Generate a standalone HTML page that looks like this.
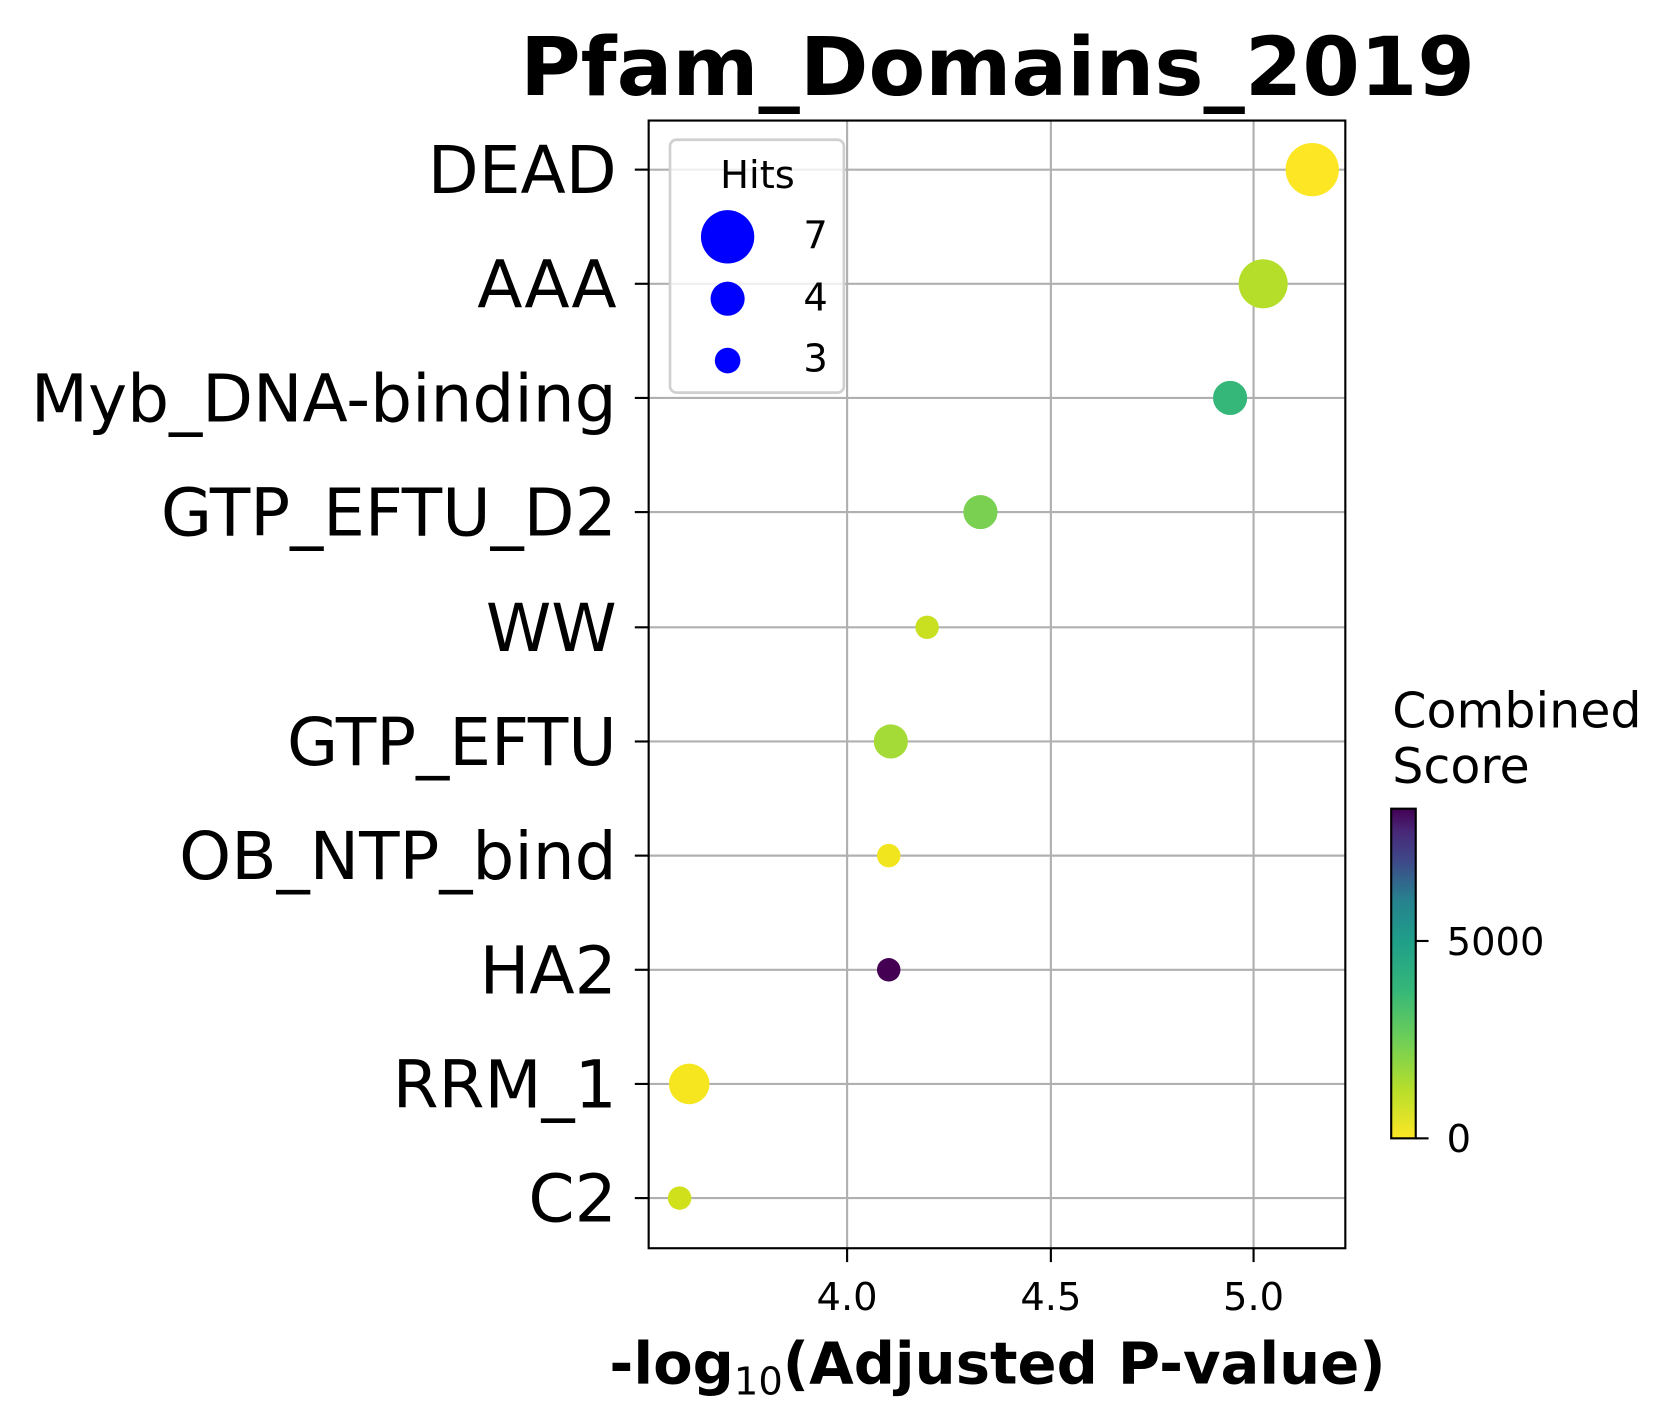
<!DOCTYPE html>
<html><head><style>html,body{margin:0;padding:0;background:#fff}svg{display:block}</style></head>
<body>
<svg width="1675" height="1428" viewBox="0 0 1570 1338.5" xmlns="http://www.w3.org/2000/svg" font-family="DejaVu Sans, Liberation Sans, sans-serif">
<defs>
<linearGradient id="vir" x1="0" y1="1" x2="0" y2="0">
<stop offset="0" stop-color="#fde725"/><stop offset="0.15" stop-color="#b5de2b"/><stop offset="0.3" stop-color="#6ece58"/><stop offset="0.45" stop-color="#35b779"/><stop offset="0.6" stop-color="#1f9e89"/><stop offset="0.72" stop-color="#26828e"/><stop offset="0.84" stop-color="#3e4989"/><stop offset="0.93" stop-color="#482878"/><stop offset="1" stop-color="#440154"/>
</linearGradient>
</defs>
<rect width="1570" height="1339" fill="#fff"/>
<text x="935" y="89" font-size="76" font-weight="bold" text-anchor="middle" textLength="895" lengthAdjust="spacingAndGlyphs">Pfam_Domains_2019</text>
<g stroke="#b0b0b0" stroke-width="2">
<line x1="794" y1="113" x2="794" y2="1170"/><line x1="985" y1="113" x2="985" y2="1170"/><line x1="1175" y1="113" x2="1175" y2="1170"/>
<line x1="608" y1="159" x2="1261" y2="159"/><line x1="608" y1="266" x2="1261" y2="266"/><line x1="608" y1="373" x2="1261" y2="373"/><line x1="608" y1="480" x2="1261" y2="480"/><line x1="608" y1="588" x2="1261" y2="588"/><line x1="608" y1="695" x2="1261" y2="695"/><line x1="608" y1="802" x2="1261" y2="802"/><line x1="608" y1="909" x2="1261" y2="909"/><line x1="608" y1="1016" x2="1261" y2="1016"/><line x1="608" y1="1123" x2="1261" y2="1123"/>
</g>
<circle cx="1230" cy="159" r="25" fill="#fde725"/>
<circle cx="1184" cy="266" r="23" fill="#b5de2b"/>
<circle cx="1153" cy="373" r="16" fill="#35b779"/>
<circle cx="919" cy="480" r="16" fill="#7ad151"/>
<circle cx="869" cy="588" r="11" fill="#c8e020"/>
<circle cx="835" cy="695" r="16" fill="#a5db36"/>
<circle cx="833" cy="802" r="11" fill="#f1e51d"/>
<circle cx="833" cy="909" r="11" fill="#440154"/>
<circle cx="646" cy="1016" r="19" fill="#f6e620"/>
<circle cx="637" cy="1123" r="11" fill="#d0e11c"/>
<rect x="628" y="131" width="163" height="237" rx="6" fill="#fff" fill-opacity="0.8" stroke="#d0d0d0" stroke-width="2.5"/>
<text x="710" y="176" font-size="36" text-anchor="middle">Hits</text>
<circle cx="682" cy="222" r="25" fill="#0000ff"/><circle cx="682" cy="280" r="16" fill="#0000ff"/><circle cx="682" cy="338" r="12" fill="#0000ff"/>
<g font-size="36"><text x="753" y="233">7</text><text x="753" y="291">4</text><text x="753" y="348">3</text></g>
<rect x="608" y="113" width="653" height="1057" fill="none" stroke="#000" stroke-width="2"/>
<g stroke="#000" stroke-width="2">
<line x1="595" y1="159" x2="608" y2="159"/><line x1="595" y1="266" x2="608" y2="266"/><line x1="595" y1="373" x2="608" y2="373"/><line x1="595" y1="480" x2="608" y2="480"/><line x1="595" y1="588" x2="608" y2="588"/><line x1="595" y1="695" x2="608" y2="695"/><line x1="595" y1="802" x2="608" y2="802"/><line x1="595" y1="909" x2="608" y2="909"/><line x1="595" y1="1016" x2="608" y2="1016"/><line x1="595" y1="1123" x2="608" y2="1123"/>
<line x1="794" y1="1170" x2="794" y2="1183"/><line x1="985" y1="1170" x2="985" y2="1183"/><line x1="1175" y1="1170" x2="1175" y2="1183"/>
</g>
<g font-size="62" text-anchor="end">
<text x="578" y="181">DEAD</text><text x="578" y="288">AAA</text><text x="578" y="395">Myb_DNA-binding</text><text x="578" y="502">GTP_EFTU_D2</text><text x="578" y="610">WW</text><text x="578" y="717">GTP_EFTU</text><text x="578" y="824">OB_NTP_bind</text><text x="578" y="931">HA2</text><text x="578" y="1038">RRM_1</text><text x="578" y="1145">C2</text>
</g>
<g font-size="36" text-anchor="middle"><text x="794" y="1228">4.0</text><text x="985" y="1228">4.5</text><text x="1175" y="1228">5.0</text></g>
<text x="935" y="1297" font-size="54" font-weight="bold" text-anchor="middle">-log<tspan font-size="36" font-weight="normal" dy="10">10</tspan><tspan dy="-10">(Adjusted P-value)</tspan></text>
<rect x="1304" y="758" width="23" height="309" fill="url(#vir)" stroke="#000" stroke-width="2"/>
<g stroke="#000" stroke-width="2"><line x1="1327" y1="882" x2="1339" y2="882"/><line x1="1327" y1="1067" x2="1339" y2="1067"/></g>
<g font-size="36"><text x="1356" y="895">5000</text><text x="1356" y="1080">0</text></g>
<g font-size="46"><text x="1305" y="682">Combined</text><text x="1305" y="734">Score</text></g>
</svg>
</body></html>
